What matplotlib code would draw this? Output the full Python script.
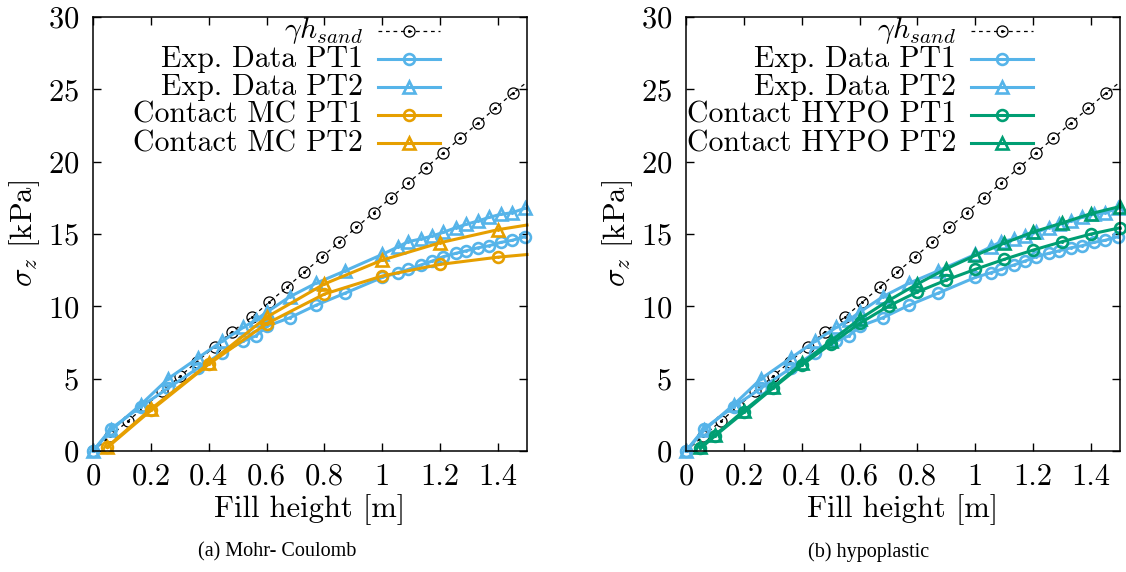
import matplotlib
matplotlib.use("Agg")
import matplotlib.pyplot as plt

plt.rcParams['font.family'] = ['cmr10', 'DejaVu Serif']
plt.rcParams['mathtext.fontset'] = 'cm'
plt.rcParams['axes.formatter.use_mathtext'] = True

# gamma * h_sand reference line
h_sand = [0.0, 0.06, 0.12, 0.18, 0.24, 0.30, 0.36, 0.42, 0.48, 0.55, 0.61, 0.67, 0.73,
          0.79, 0.85, 0.91, 0.97, 1.03, 1.09, 1.15, 1.21, 1.27, 1.33, 1.39, 1.45, 1.5]
gamma_h = [0.0, 1.03, 2.06, 3.09, 4.12, 5.15, 6.18, 7.21, 8.24, 9.27, 10.3, 11.33, 12.36,
           13.39, 14.42, 15.45, 16.48, 17.51, 18.54, 19.57, 20.6, 21.63, 22.66, 23.69, 24.72, 25.5]

# experimental data
exp_h = [0.0, 0.063, 0.165, 0.26, 0.364, 0.447, 0.52, 0.562, 0.603, 0.68, 0.77, 0.87, 1.0,
         1.055, 1.089, 1.132, 1.172, 1.21, 1.253, 1.29, 1.331, 1.369, 1.409, 1.448, 1.492]
exp_pt1 = [0.0, 1.55, 3.06, 4.35, 5.75, 6.8, 7.6, 7.95, 8.64, 9.21, 10.07, 10.9, 12.0,
           12.33, 12.55, 12.85, 13.13, 13.43, 13.66, 13.84, 14.05, 14.19, 14.42, 14.56, 14.81]
exp_pt2 = [0.0, 1.45, 3.2, 5.0, 6.45, 7.6, 8.55, 9.05, 9.63, 10.66, 11.59, 12.44, 13.59,
           14.12, 14.47, 14.65, 14.86, 15.11, 15.43, 15.67, 15.9, 16.15, 16.36, 16.47, 16.77]

# Mohr-Coulomb contact (last value is where the line leaves the frame)
mc_h = [0.05, 0.2, 0.4, 0.6, 0.8, 1.0, 1.2, 1.4, 1.5]
mc_pt1 = [0.25, 2.8, 6.0, 8.8, 10.85, 12.1, 12.9, 13.4, 13.58]
mc_pt2 = [0.3, 2.9, 6.05, 9.25, 11.55, 13.2, 14.4, 15.3, 15.62]

# hypoplastic contact
hypo_h = [0.05, 0.1, 0.2, 0.3, 0.4, 0.5, 0.6, 0.7, 0.8, 0.9, 1.0, 1.1, 1.2, 1.3, 1.4, 1.5]
hypo_pt1 = [0.18, 1.04, 2.67, 4.33, 5.94, 7.39, 8.82, 10.02, 11.0, 11.82, 12.56, 13.25,
            13.89, 14.47, 15.0, 15.43]
hypo_pt2 = [0.3, 1.1, 2.79, 4.4, 6.05, 7.6, 9.12, 10.4, 11.55, 12.6, 13.52, 14.37, 15.14,
            15.76, 16.41, 16.9]

x_ticks = [0, 0.2, 0.4, 0.6, 0.8, 1.0, 1.2, 1.4]
x_tick_labels = ['0', '0.2', '0.4', '0.6', '0.8', '1', '1.2', '1.4']
y_ticks = [0, 5, 10, 15, 20, 25, 30]

BLUE = '#56B4E9'
ORANGE = '#E69F00'
GREEN = '#009E73'
DASHED = (0, (3, 3))


def draw_series(ax, x, y, color, marker, lw=2.2, ms=7.8, mew=1.9, ls='-', markevery=None):
    ax.plot(x, y, color=color, lw=lw, ls=ls, marker=marker, ms=ms, mew=mew,
            mfc='none', mec=color, markevery=markevery, clip_on=False)
    # gnuplot-style dot in the middle of every point
    ax.plot(x, y, ls='none', marker='o', ms=2.2, mew=0, color=color,
            markevery=markevery, clip_on=False)


def legend_row(ax, row, label, color, marker, lw=2.2, ms=7.8, mew=1.9, ls='-'):
    y = 0.968 - row * 0.0648
    ax.text(0.622, y, label, ha='right', va='center', fontsize=21.5, transform=ax.transAxes)
    xs = [0.657, 0.728, 0.80]
    ys = [y, y, y]
    ax.plot(xs, ys, color=color, lw=lw, ls=ls, marker=marker, ms=ms, mew=mew, mfc='none',
            markevery=[1], transform=ax.transAxes, clip_on=False)
    ax.plot([0.728], [y], marker='o', ms=2.2, mew=0, color=color,
            transform=ax.transAxes, clip_on=False)


fig = plt.figure(figsize=(11.26, 5.72), dpi=100)
ax_a = fig.add_axes([93 / 1126, 121 / 572, 434 / 1126, 434 / 572])
ax_b = fig.add_axes([686 / 1126, 121 / 572, 434 / 1126, 434 / 572])

panels = [
    (ax_a, 'MC', ORANGE, mc_h, mc_pt1, mc_pt2, [0, 1, 2, 3, 4, 5, 6, 7]),
    (ax_b, 'HYPO', GREEN, hypo_h, hypo_pt1, hypo_pt2, None),
]

for ax, name, col, sim_h, sim1, sim2, mev in panels:
    draw_series(ax, h_sand, gamma_h, 'black', 'o', lw=0.9, ms=8.0, mew=0.9, ls=DASHED,
                markevery=list(range(25)))
    draw_series(ax, exp_h, exp_pt1, BLUE, 'o')
    draw_series(ax, exp_h, exp_pt2, BLUE, '^', ms=9.0)
    draw_series(ax, sim_h, sim1, col, 'o', markevery=mev)
    draw_series(ax, sim_h, sim2, col, '^', ms=9.0, markevery=mev)

    legend_row(ax, 0, r'$\gamma h_{sand}$', 'black', 'o', lw=0.9, ms=8.0, mew=0.9, ls=DASHED)
    legend_row(ax, 1, 'Exp. Data PT1', BLUE, 'o')
    legend_row(ax, 2, 'Exp. Data PT2', BLUE, '^', ms=9.0)
    legend_row(ax, 3, 'Contact %s PT1' % name, col, 'o')
    legend_row(ax, 4, 'Contact %s PT2' % name, col, '^', ms=9.0)

    ax.set_xlim(0, 1.5)
    ax.set_ylim(0, 30)
    ax.set_xticks(x_ticks)
    ax.set_xticklabels(x_tick_labels)
    ax.set_yticks(y_ticks)
    ax.tick_params(direction='in', top=True, right=True, length=6, width=1.0,
                   labelsize=22)
    ax.tick_params(axis='x', pad=9)
    ax.tick_params(axis='y', pad=10)
    for sp in ax.spines.values():
        sp.set_linewidth(1.1)

    ax.set_xlabel('Fill height [m]', fontsize=22)
    ax.xaxis.set_label_coords(0.5, -0.134)
    ax.xaxis.label.set_va('center')
    ax.set_ylabel(r'$\sigma_z$ [kPa]', fontsize=22)
    ax.yaxis.set_label_coords(-0.157, 0.5)
    ax.yaxis.label.set_va('center')

fig.text(277 / 1126, 1 - 552 / 572, '(a) Mohr- Coulomb', ha='center', va='center',
         fontsize=14.5, family='Liberation Serif')
fig.text(869 / 1126, 1 - 552 / 572, '(b) hypoplastic', ha='center', va='center',
         fontsize=14.5, family='Liberation Serif')

fig.savefig('out.png', dpi=100)
